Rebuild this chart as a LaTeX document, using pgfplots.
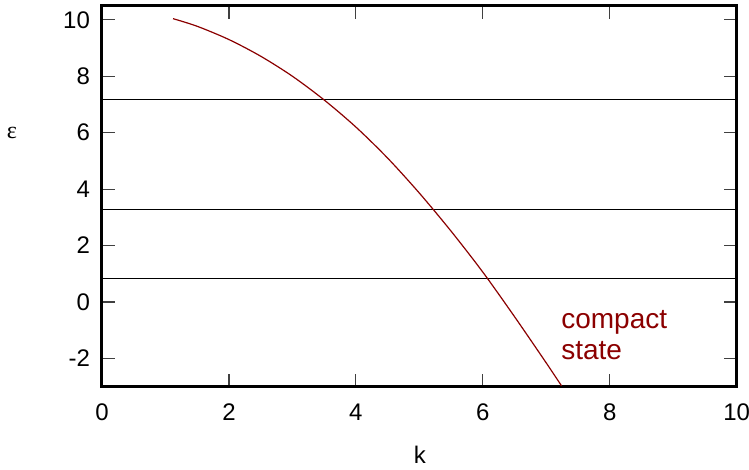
\documentclass[border=0pt]{standalone}
\usepackage{fontspec}
\setmainfont{Liberation Sans}
\newfontfamily\serif{Liberation Serif}
\usepackage{pgfplots}
\pgfplotsset{compat=1.18}
\definecolor{dred}{RGB}{139,0,0}
\begin{document}
\begin{tikzpicture}
\path[use as bounding box] (0,0) rectangle (374.5pt,235pt);
\begin{axis}[
  at={(51pt,41.65pt)}, anchor=south west,
  scale only axis, width=317.35pt, height=190.5pt,
  xmin=0, xmax=10, ymin=-3, ymax=10.5,
  xtick={0,2,4,6,8,10}, ytick={-2,0,2,4,6,8,10},
  tick align=inside, major tick length=6.5pt,
  tick style={line width=0.6pt, color=black!75},
  axis line style={line width=1.5pt},
  /pgf/number format/assume math mode=true,
  tick label style={font=\fontsize{12}{14}\selectfont},
  xticklabel style={yshift=-5pt},
  yticklabel style={xshift=-2.5pt},
  clip=false,
]
\addplot[black, line width=0.5pt] coordinates {(0,7.19) (10,7.19)};
\addplot[black, line width=0.5pt] coordinates {(0,3.27) (10,3.27)};
\addplot[black, line width=0.5pt] coordinates {(0,0.83) (10,0.83)};
\addplot[dred, line width=0.6pt, smooth] coordinates {
(1.12,10.04) (1.5,9.77) (2.0,9.30) (2.5,8.71) (3.0,8.00) (3.5,7.16) (4.0,6.20)
(4.5,5.10) (5.0,3.86) (5.5,2.51) (6.0,1.06) (6.5,-0.52) (7.0,-2.16) (7.24,-2.97)
};
\node[anchor=base west, text=dred, font=\fontsize{14}{16}\selectfont, inner sep=0pt] at (axis cs:7.23,-0.94) {compact};
\node[anchor=base west, text=dred, font=\fontsize{14}{16}\selectfont, inner sep=0pt] at (axis cs:7.23,-2.05) {state};
\node[font=\fontsize{12}{14}\selectfont\serif] at (rel axis cs:-0.142,0.666) {ε};
\node[font=\fontsize{12}{14}\selectfont] at (rel axis cs:0.501,-0.179) {k};
\end{axis}
\end{tikzpicture}
\end{document}
